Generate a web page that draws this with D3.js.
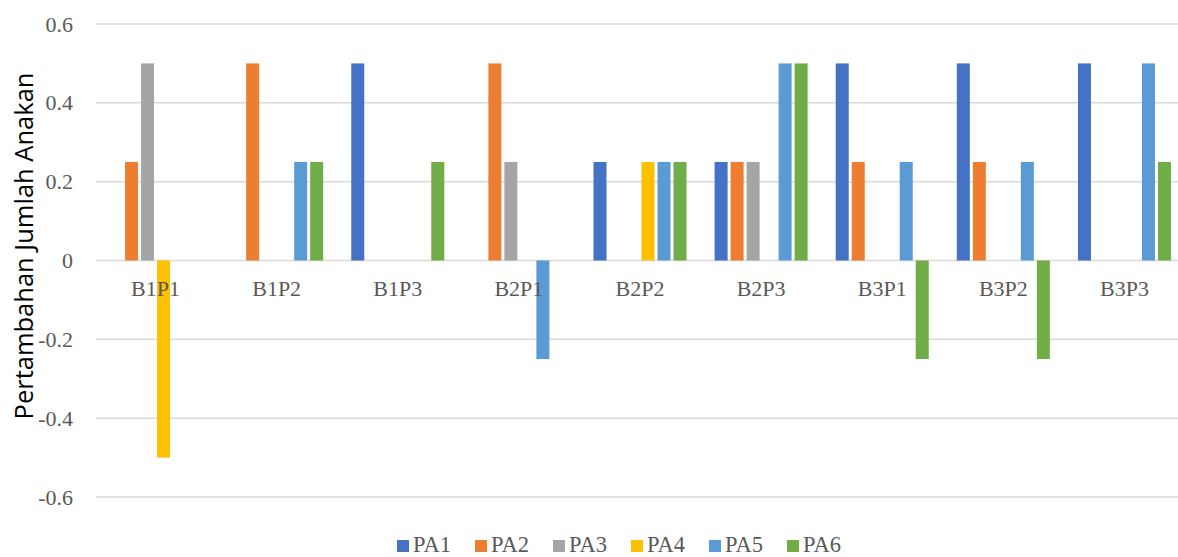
<!DOCTYPE html>
<html lang="en">
  <head>
    <meta charset="utf-8">
    <title>Pertambahan Jumlah Anakan</title>
    <script src="https://cdn.jsdelivr.net/npm/d3@7"></script>
    <style>
      body { margin: 0; background: #fff; }
      .tick text { font-family: "Liberation Serif", serif; font-size: 22px; fill: #595959; }
    </style>
  </head>
  <body>
    <script>
    // chart data
    var categories = ["B1P1", "B1P2", "B1P3", "B2P1", "B2P2", "B2P3", "B3P1", "B3P2", "B3P3"];
    var seriesNames = ["PA1", "PA2", "PA3", "PA4", "PA5", "PA6"];
    var PA1 = [0, 0, 0.5, 0, 0.25, 0.25, 0.5, 0.5, 0.5];
    var PA2 = [0.25, 0.5, 0, 0.5, 0, 0.25, 0.25, 0.25, 0];
    var PA3 = [0.5, 0, 0, 0.25, 0, 0.25, 0, 0, 0];
    var PA4 = [-0.5, 0, 0, 0, 0.25, 0, 0, 0, 0];
    var PA5 = [0, 0.25, 0, -0.25, 0.25, 0.5, 0.25, 0.25, 0.5];
    var PA6 = [0, 0.25, 0.25, 0, 0.25, 0.5, -0.25, -0.25, 0.25];
    var yTicks = [-0.6, -0.4, -0.2, 0, 0.2, 0.4, 0.6];
    var colors = ["#4472C4", "#ED7D31", "#A5A5A5", "#FFC000", "#5B9BD5", "#70AD47"];

    var allSeries = [PA1, PA2, PA3, PA4, PA5, PA6];

    //Width and height
    var w = 1178;
    var h = 557;
    var plotLeft = 95, plotRight = 1185, plotTop = 24, plotBottom = 497;

    var svg = d3.select("body").append("svg")
        .attr("width", w)
        .attr("height", h);

    //Scales
    var xScale = d3.scaleBand()
        .domain(categories)
        .range([plotLeft, plotRight])
        .paddingInner(0.232)
        .paddingOuter(0.116);

    var xInner = d3.scaleBand()
        .domain(seriesNames)
        .range([0, xScale.bandwidth()])
        .paddingInner(0.1875);

    var yScale = d3.scaleLinear()
        .domain([-0.6, 0.6])
        .range([plotBottom, plotTop]);

    //Gridlines
    svg.append("g")
      .selectAll("line")
      .data(yTicks)
      .enter()
      .append("line")
      .attr("x1", 96)
      .attr("x2", w)
      .attr("y1", function(d) { return yScale(d); })
      .attr("y2", function(d) { return yScale(d); })
      .attr("stroke", "#D9D9D9")
      .attr("stroke-width", 1.5);

    //Y axis (labels only)
    var yAxis = d3.axisLeft(yScale)
        .tickValues(yTicks)
        .tickSize(0)
        .tickPadding(22)
        .tickFormat(function(d) { return d === 0 ? "0" : d3.format(".1f")(d).replace("\u2212", "-"); });

    svg.append("g")
      .attr("class", "y axis")
      .attr("transform", "translate(" + plotLeft + ",0)")
      .call(yAxis)
      .call(function(g) { g.select(".domain").remove(); });

    //Bars
    var barData = [];
    seriesNames.forEach(function(s, i) {
      categories.forEach(function(c, j) {
        if (allSeries[i][j] !== 0) barData.push({ cat: c, s: s, i: i, v: allSeries[i][j] });
      });
    });

    svg.append("g")
      .selectAll("rect")
      .data(barData)
      .enter()
      .append("rect")
      .attr("x", function(d) { return xScale(d.cat) + xInner(d.s); })
      .attr("width", xInner.bandwidth())
      .attr("y", function(d) { return yScale(Math.max(0, d.v)); })
      .attr("height", function(d) { return Math.abs(yScale(d.v) - yScale(0)); })
      .attr("fill", function(d) { return colors[d.i]; });

    //Category labels
    var xAxis = d3.axisBottom(xScale).tickSize(0).tickPadding(20);
    svg.append("g")
      .attr("class", "x axis")
      .attr("transform", "translate(0," + yScale(0) + ")")
      .call(xAxis)
      .call(function(g) { g.select(".domain").remove(); });

    //Y axis title
    svg.append("text")
      .attr("transform", "translate(33,246) rotate(-90)")
      .attr("text-anchor", "middle")
      .style("font-family", "'Open Sans', sans-serif")
      .style("font-size", "25.5px")
      .attr("fill", "#000")
      .text("Pertambahan Jumlah Anakan");

    //Legend
    var legend = svg.append("g")
      .selectAll("g")
      .data(seriesNames)
      .enter()
      .append("g")
      .attr("transform", function(d, i) { return "translate(" + (397 + i * 78) + ",540)"; });

    legend.append("rect")
      .attr("width", 12)
      .attr("height", 12)
      .attr("fill", function(d, i) { return colors[i]; });

    legend.append("text")
      .attr("x", 16)
      .attr("y", 12)
      .style("font-family", "'Liberation Serif', serif")
      .style("font-size", "22.5px")
      .attr("fill", "#595959")
      .text(function(d) { return d; });
    </script>
  </body>
</html>
